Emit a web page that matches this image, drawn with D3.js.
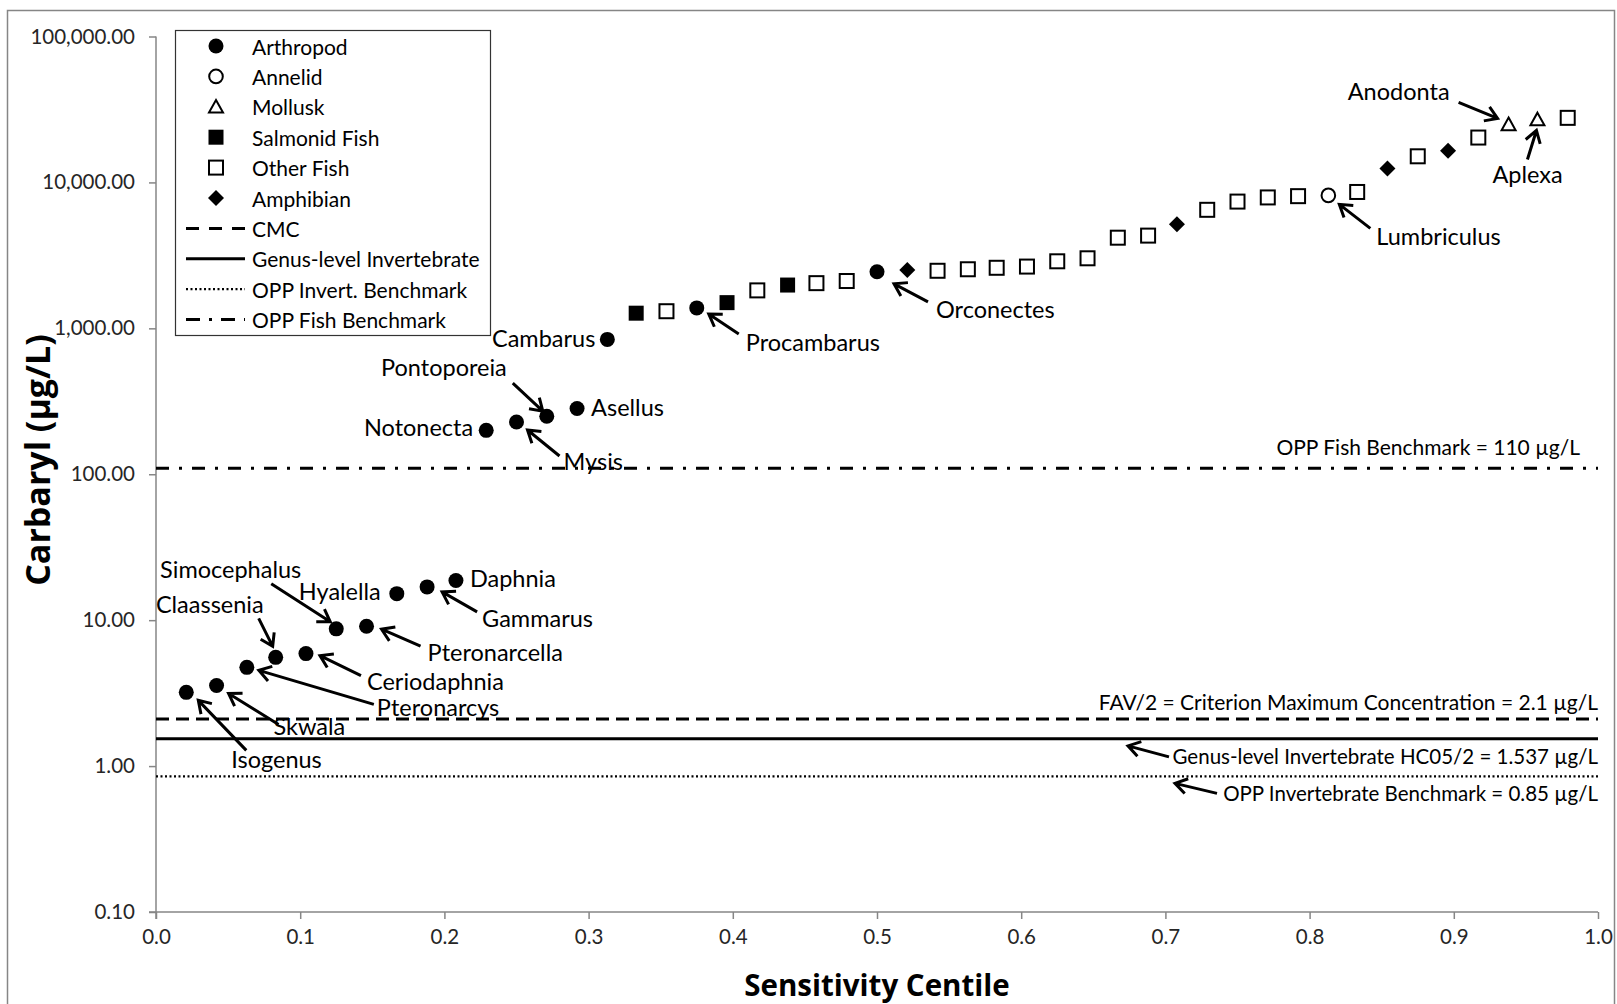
<!DOCTYPE html>
<html>
<head>
<meta charset="utf-8">
<script src="https://cdn.jsdelivr.net/npm/d3@7"></script>
<style>
	body { margin: 0; background: #fff; }
	svg { font-family: Lato, 'Open Sans', sans-serif; }
</style>
</head>
<body>
<div id="canvas"></div>
<script>
// sensitivity centile (rank / (N + 1), N = 47 genera)
const centiles = [
	0.021, 0.042, 0.063, 0.083, 0.104, 0.125, 0.146, 0.167, 0.188, 0.208,
	0.229, 0.250, 0.271, 0.292, 0.313, 0.333, 0.354, 0.375, 0.396, 0.417,
	0.438, 0.458, 0.479, 0.500, 0.521, 0.542, 0.563, 0.583, 0.604, 0.625,
	0.646, 0.667, 0.688, 0.708, 0.729, 0.750, 0.771, 0.792, 0.813, 0.833,
	0.854, 0.875, 0.896, 0.917, 0.938, 0.958, 0.979
];
// genus mean acute values, µg/L
const carbaryl = [
	3.2, 3.57, 4.75, 5.56, 5.9, 8.72, 9.09, 15.2, 16.9, 18.7,
	200, 228, 250, 282, 840, 1270, 1310, 1380, 1500, 1820,
	1980, 2040, 2110, 2440, 2510, 2480, 2540, 2600, 2650, 2880,
	3020, 4180, 4320, 5160, 6490, 7390, 7890, 8050, 8150, 8600,
	12450, 15100, 16500, 20300, 25000, 27000, 27700
];
const groups = [
	'Arthropod', 'Arthropod', 'Arthropod', 'Arthropod', 'Arthropod', 'Arthropod', 'Arthropod', 'Arthropod', 'Arthropod', 'Arthropod',
	'Arthropod', 'Arthropod', 'Arthropod', 'Arthropod', 'Arthropod', 'Salmonid Fish', 'Other Fish', 'Arthropod', 'Salmonid Fish', 'Other Fish',
	'Salmonid Fish', 'Other Fish', 'Other Fish', 'Arthropod', 'Amphibian', 'Other Fish', 'Other Fish', 'Other Fish', 'Other Fish', 'Other Fish',
	'Other Fish', 'Other Fish', 'Other Fish', 'Amphibian', 'Other Fish', 'Other Fish', 'Other Fish', 'Other Fish', 'Annelid', 'Other Fish',
	'Amphibian', 'Other Fish', 'Amphibian', 'Other Fish', 'Mollusk', 'Mollusk', 'Other Fish'
];
const legendGroups = ['Arthropod', 'Annelid', 'Mollusk', 'Salmonid Fish', 'Other Fish', 'Amphibian'];

// reference lines
const refNames = ['CMC', 'Genus-level Invertebrate', 'OPP Invert. Benchmark', 'OPP Fish Benchmark'];
const refValues = [2.1, 1.537, 0.85, 110];
const refLabels = [
	'FAV/2 = Criterion Maximum Concentration = 2.1 µg/L',
	'Genus-level Invertebrate HC05/2 = 1.537 µg/L',
	'OPP Invertebrate Benchmark = 0.85 µg/L',
	'OPP Fish Benchmark = 110 µg/L'
];

const yTicks = [0.1, 1, 10, 100, 1000, 10000, 100000];
const xTicks = [0, 0.1, 0.2, 0.3, 0.4, 0.5, 0.6, 0.7, 0.8, 0.9, 1.0];

// genus labels: point rank, name
const labelRanks = [1, 2, 3, 4, 5, 6, 7, 8, 9, 10, 11, 12, 13, 14, 15, 18, 24, 39, 45, 46];
const labelNames = ['Isogenus', 'Skwala', 'Pteronarcys', 'Claassenia', 'Ceriodaphnia', 'Simocephalus', 'Pteronarcella', 'Hyalella', 'Gammarus', 'Daphnia',
	'Notonecta', 'Mysis', 'Pontoporeia', 'Asellus', 'Cambarus', 'Procambarus', 'Orconectes', 'Lumbriculus', 'Anodonta', 'Aplexa'];

// label layout (pixel offsets from the point): anchor, dx, dy, arrow [tailX, tailY, tipX, tipY]
const labelLayout = {
	Isogenus: ['start', 45, 67, [60, 58, 12, 8]],
	Skwala: ['start', 57, 41, [62, 39, 12, 8]],
	Pteronarcys: ['start', 130, 40, [127, 37, 12, 3]],
	Claassenia: ['end', -12, -53, [-17, -39, -3, -11]],
	Ceriodaphnia: ['start', 61, 27, [55, 22, 14, 2]],
	Simocephalus: ['end', -35, -60, [-65, -45, -6, -7]],
	Pteronarcella: ['start', 61, 26, [54, 20, 15, 3]],
	Hyalella: ['end', -16, -3, null],
	Gammarus: ['start', 55, 31, [50, 25, 15, 5]],
	Daphnia: ['start', 14, -3, null],
	Notonecta: ['end', -13, -3, null],
	Mysis: ['start', 47, 39, [43, 34, 11, 8]],
	Pontoporeia: ['end', -40, -49, [-34, -33, -4, -5]],
	Asellus: ['start', 14, -2, null],
	Cambarus: ['end', -12, -1, null],
	Procambarus: ['start', 49, 34, [42, 26, 12, 6]],
	Orconectes: ['start', 59, 37, [51, 30, 17, 12]],
	Lumbriculus: ['start', 48, 41, [42, 33, 11, 9]],
	Anodonta: ['end', -59, -33, [-50, -22, -11, -6]],
	Aplexa: ['start', -45, 55, [-10, 40, -1, 11]]
};

function onLoad () {
	const W = 1617, H = 1004;
	const margin = { left: 156, right: 1598, top: 36.5, bottom: 912 };

	const x = d3.scaleLinear().domain([0, 1]).range([margin.left, margin.right]);
	const y = d3.scaleLog().domain([0.1, 100000]).range([margin.bottom, margin.top]);

	const svg = d3.select('#canvas').append('svg')
		.attr('width', W)
		.attr('height', H)
		.attr('viewBox', [0, 0, W, H]);

	// outer chart frame
	svg.append('rect')
		.attr('x', 7.5).attr('y', 10.5)
		.attr('width', 1607).attr('height', 1000)
		.style('fill', 'none')
		.style('stroke', '#868686')
		.style('stroke-width', 1.5);

	// axes
	const xAxis = svg.append('g')
		.attr('transform', `translate(0,${margin.bottom})`)
		.call(d3.axisBottom(x).tickValues(xTicks).tickFormat(d3.format('.1f')).tickSize(7).tickSizeOuter(0).tickPadding(10));
	const yAxis = svg.append('g')
		.attr('transform', `translate(${margin.left},0)`)
		.call(d3.axisLeft(y).tickValues(yTicks).tickFormat(d3.format(',.2f')).tickSize(7).tickSizeOuter(0).tickPadding(14));
	[xAxis, yAxis].forEach(a => {
		a.select('.domain').style('stroke', '#868686').style('stroke-width', 1.5);
		a.selectAll('.tick line').style('stroke', '#868686').style('stroke-width', 1.5);
		a.selectAll('.tick text')
			.style('font-family', 'Lato, sans-serif')
			.style('font-size', '20.5px')
			.style('fill', '#262626');
	});
	yAxis.select('.domain').attr('d', `M0,${margin.bottom + 7}V${margin.top}`);
	xAxis.select('.domain').attr('d', `M${-7 + margin.left},0H${margin.right}`);

	// axis titles
	svg.append('text')
		.attr('transform', 'translate(37,460)rotate(-90)')
		.attr('text-anchor', 'middle')
		.attr('dominant-baseline', 'central')
		.style('font-family', "'Open Sans', sans-serif")
		.style('font-weight', 'bold')
		.style('font-size', '34px')
		.text('Carbaryl (µg/L)');
	svg.append('text')
		.attr('x', (margin.left + margin.right) / 2)
		.attr('y', 984)
		.attr('text-anchor', 'middle')
		.attr('dominant-baseline', 'central')
		.style('font-family', "'Open Sans', sans-serif")
		.style('font-weight', 'bold')
		.style('font-size', '29.5px')
		.text('Sensitivity Centile');

	// reference lines
	const refStyles = {
		'CMC': { dash: '13,7', width: 3 },
		'Genus-level Invertebrate': { dash: null, width: 3 },
		'OPP Invert. Benchmark': { dash: '2,2.5', width: 2.2 },
		'OPP Fish Benchmark': { dash: '13,10,3,10', width: 3 }
	};
	const refs = refNames.map((n, i) => ({ name: n, value: refValues[i], label: refLabels[i] }));
	svg.append('g').selectAll('line').data(refs).join('line')
		.attr('x1', margin.left)
		.attr('x2', margin.right)
		.attr('y1', d => y(d.value))
		.attr('y2', d => y(d.value))
		.style('stroke', '#000')
		.style('stroke-width', d => refStyles[d.name].width)
		.style('stroke-dasharray', d => refStyles[d.name].dash);

	const refLabelDy = [-18, 17, 17, -22];
	const refLabelSize = [21, 20.5, 20.5, 21];
	svg.append('g').selectAll('text').data(refs).join('text')
		.attr('x', (d, i) => i === 3 ? margin.right - 18 : margin.right)
		.attr('y', (d, i) => y(d.value) + refLabelDy[i])
		.attr('text-anchor', 'end')
		.attr('dominant-baseline', 'central')
		.style('font-size', (d, i) => `${refLabelSize[i]}px`)
		.text(d => d.label);

	// arrows to the two invertebrate lines
	const refArrows = [[1, 1169, 18, 1128, 7], [2, 1217, 17, 1175, 7]];
	refArrows.forEach(([i, tx, tdy, hx, hdy]) => {
		drawArrow(svg, tx, y(refValues[i]) + tdy, hx, y(refValues[i]) + hdy);
	});

	// points
	const points = centiles.map((c, i) => ({ c, v: carbaryl[i], group: groups[i], rank: i + 1 }));
	const pts = svg.append('g').selectAll('g').data(points).join('g')
		.attr('transform', d => `translate(${x(d.c)},${y(d.v)})`);
	pts.each(function (d) { drawSymbol(d3.select(this), d.group); });

	// genus labels & arrows
	const labels = labelNames.map((n, i) => {
		const p = points[labelRanks[i] - 1];
		const [anchor, dx, dy, arrow] = labelLayout[n];
		return { name: n, px: x(p.c), py: y(p.v), anchor, dx, dy, arrow };
	});
	svg.append('g').selectAll('text').data(labels).join('text')
		.attr('x', d => d.px + d.dx)
		.attr('y', d => d.py + d.dy)
		.attr('text-anchor', d => d.anchor)
		.attr('dominant-baseline', 'central')
		.style('font-size', '23.5px')
		.text(d => d.name);
	labels.filter(d => d.arrow).forEach(d => {
		const [tx, ty, hx, hy] = d.arrow;
		drawArrow(svg, d.px + tx, d.py + ty, d.px + hx, d.py + hy);
	});

	// legend
	const lg = svg.append('g');
	lg.append('rect')
		.attr('x', 175.5).attr('y', 30.5)
		.attr('width', 315).attr('height', 305)
		.style('fill', '#fff')
		.style('stroke', '#333')
		.style('stroke-width', 1.2);
	const rowY = i => 46 + i * 30.4;
	const items = legendGroups.map(g => ({ name: g, type: 'symbol' }))
		.concat(refNames.map(n => ({ name: n, type: 'line' })));
	const rows = lg.selectAll('g').data(items).join('g')
		.attr('transform', (d, i) => `translate(0,${rowY(i)})`);
	rows.each(function (d) {
		const g = d3.select(this);
		if (d.type === 'symbol') {
			const s = g.append('g').attr('transform', 'translate(216,0)');
			drawSymbol(s, d.name);
		} else {
			const st = refStyles[d.name];
			g.append('line')
				.attr('x1', 186).attr('x2', 245)
				.style('stroke', '#000')
				.style('stroke-width', st.width)
				.style('stroke-dasharray', d.name === 'OPP Fish Benchmark' ? '14,9,3,9' : d.name === 'CMC' ? '13,10' : st.dash);
		}
	});
	rows.append('text')
		.attr('x', 252)
		.attr('dominant-baseline', 'central')
		.style('font-size', '21px')
		.text(d => d.name);
}

function drawSymbol (g, group) {
	if (group === 'Arthropod') {
		g.append('circle').attr('r', 7.5).style('fill', '#000');
	} else if (group === 'Annelid') {
		g.append('circle').attr('r', 6.8).style('fill', '#fff').style('stroke', '#000').style('stroke-width', 2);
	} else if (group === 'Mollusk') {
		g.append('path').attr('d', 'M0,-6.8L7,5.8L-7,5.8Z').style('fill', '#fff').style('stroke', '#000').style('stroke-width', 2);
	} else if (group === 'Salmonid Fish') {
		g.append('rect').attr('x', -7.5).attr('y', -7.5).attr('width', 15).attr('height', 15).style('fill', '#000');
	} else if (group === 'Other Fish') {
		g.append('rect').attr('x', -7).attr('y', -7).attr('width', 14).attr('height', 14).style('fill', '#fff').style('stroke', '#000').style('stroke-width', 2);
	} else if (group === 'Amphibian') {
		g.append('path').attr('d', 'M0,-8L8,0L0,8L-8,0Z').style('fill', '#000');
	}
}

function drawArrow (svg, x1, y1, x2, y2) {
	const a = Math.atan2(y2 - y1, x2 - x1);
	const len = 14, spread = Math.PI / 5.5;
	const h1 = [x2 - len * Math.cos(a - spread), y2 - len * Math.sin(a - spread)];
	const h2 = [x2 - len * Math.cos(a + spread), y2 - len * Math.sin(a + spread)];
	svg.append('path')
		.attr('d', `M${x1},${y1}L${x2},${y2}M${h1}L${x2},${y2}L${h2}`)
		.style('fill', 'none')
		.style('stroke', '#000')
		.style('stroke-width', 3)
		.style('stroke-linecap', 'butt')
		.style('stroke-linejoin', 'miter');
}

if (document.readyState === 'loading') {
	document.addEventListener('DOMContentLoaded', onLoad);
} else {
	onLoad();
}
</script>
</body>
</html>
